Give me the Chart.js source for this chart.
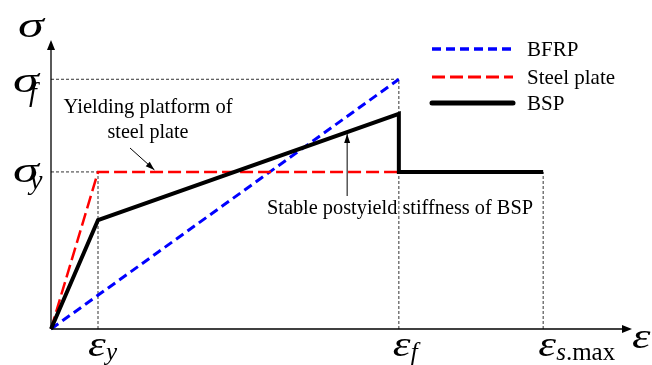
<!DOCTYPE html>
<html><head><meta charset="utf-8">
<script src="https://cdn.jsdelivr.net/npm/chart.js@4/dist/chart.umd.min.js"></script>
<style>html,body{margin:0;padding:0;background:#fff;}canvas{display:block}</style>
</head><body>
<canvas id="c" width="652" height="365"></canvas>
<script>
// Normalised constitutive model: strains in units of ε_y, stresses in units of σ_y
const strainMarks = [1, 7.4, 10.47];                 // ε_y, ε_f, ε_s.max
const strainMarkNames = [['ε', 'y'], ['ε', 'f'], ['ε', 's.max']];
const stressMarks = [1, 1.59];                        // σ_y, σ_f
const stressMarkNames = [['σ', 'y'], ['σ', 'f']];

const bfrpStrain = [0, 7.4];
const bfrpStress = [0, 1.59];
const steelStrain = [0, 1, 7.4];
const steelStress = [0, 1, 1];
const bspStrain = [0, 1, 7.4, 7.4, 10.47];
const bspStress = [0, 0.694, 1.37, 1, 1];
const seriesNames = ['BFRP', 'Steel plate', 'BSP'];

const SERIF = '"Liberation Serif", "Times New Roman", serif';
const pts = (xs, ys) => xs.map((x, i) => ({ x, y: ys[i] }));

// italic symbol (stretched horizontally by sx) with an optional subscript
function symbol(ctx, main, sub, x, y, size, sx, subSize, subX, subY) {
  ctx.save();
  ctx.fillStyle = '#000';
  ctx.textBaseline = 'alphabetic';
  ctx.textAlign = 'left';
  ctx.save();
  ctx.translate(x, y);
  ctx.scale(sx, 1);
  ctx.font = 'italic ' + size + 'px ' + SERIF;
  ctx.fillText(main, 0, 0);
  ctx.restore();
  if (sub) {
    ctx.font = 'italic ' + subSize + 'px ' + SERIF;
    ctx.fillText(sub[0], x + subX, y + subY);
    if (sub.length > 1) {
      const w = ctx.measureText(sub[0]).width;
      ctx.font = subSize + 'px ' + SERIF;
      ctx.fillText(sub.slice(1), x + subX + w, y + subY);
    }
  }
  ctx.restore();
}

// text squeezed horizontally to a given width
function fitText(ctx, text, cx, y, size, width) {
  ctx.save();
  ctx.font = size + 'px ' + SERIF;
  ctx.fillStyle = '#000';
  ctx.textAlign = 'center';
  ctx.textBaseline = 'alphabetic';
  const w = ctx.measureText(text).width;
  ctx.translate(cx, y);
  ctx.scale(Math.min(1, width / w), 1);
  ctx.fillText(text, 0, 0);
  ctx.restore();
}

function arrowHead(ctx, x0, y0, x1, y1, len, half) {
  const a = Math.atan2(y1 - y0, x1 - x0);
  ctx.beginPath();
  ctx.moveTo(x1, y1);
  ctx.lineTo(x1 - len * Math.cos(a) + half * Math.sin(a), y1 - len * Math.sin(a) - half * Math.cos(a));
  ctx.lineTo(x1 - len * Math.cos(a) - half * Math.sin(a), y1 - len * Math.sin(a) + half * Math.cos(a));
  ctx.closePath();
  ctx.fill();
}

function arrow(ctx, x0, y0, x1, y1) {
  ctx.save();
  ctx.strokeStyle = '#000'; ctx.fillStyle = '#000'; ctx.lineWidth = 1;
  ctx.beginPath(); ctx.moveTo(x0, y0); ctx.lineTo(x1, y1); ctx.stroke();
  arrowHead(ctx, x0, y0, x1, y1, 9, 3);
  ctx.restore();
}

function onBsp(e) {
  for (let i = 1; i < bspStrain.length; i++) {
    const a = bspStrain[i - 1], b = bspStrain[i];
    if (e >= a && e <= b && b > a) {
      return bspStress[i - 1] + (bspStress[i] - bspStress[i - 1]) * (e - a) / (b - a);
    }
  }
  return 0;
}

const guides = {
  id: 'guides',
  beforeDatasetsDraw(chart) {
    const { ctx, scales: { x, y } } = chart;
    const X = v => x.getPixelForValue(v), Y = v => y.getPixelForValue(v);
    ctx.save();
    ctx.strokeStyle = '#333';
    ctx.lineWidth = 1;
    ctx.setLineDash([3, 2]);
    const seg = (a, b, c, d) => { ctx.beginPath(); ctx.moveTo(a, b); ctx.lineTo(c, d); ctx.stroke(); };
    seg(X(0), Y(stressMarks[1]), X(strainMarks[1]), Y(stressMarks[1]));
    seg(X(0), Y(stressMarks[0]), X(strainMarks[0]), Y(stressMarks[0]));
    seg(X(strainMarks[0]), Y(0), X(strainMarks[0]), Y(stressMarks[0]));
    seg(X(strainMarks[1]), Y(0), X(strainMarks[1]), Y(stressMarks[1]));
    seg(X(strainMarks[2]), Y(0), X(strainMarks[2]), Y(stressMarks[0]));
    ctx.restore();
  },
  afterDraw(chart) {
    const { ctx, chartArea: ca, scales: { x, y } } = chart;
    const X = v => x.getPixelForValue(v), Y = v => y.getPixelForValue(v);
    const ox = X(0), oy = Y(0);
    ctx.save();
    // axes with arrows
    ctx.strokeStyle = '#000'; ctx.fillStyle = '#000'; ctx.lineWidth = 1.3;
    ctx.beginPath(); ctx.moveTo(ox, oy); ctx.lineTo(ox, ca.top + 6); ctx.stroke();
    arrowHead(ctx, ox, oy, ox, ca.top, 10, 4);
    ctx.beginPath(); ctx.moveTo(ox, oy); ctx.lineTo(ca.right - 6, oy); ctx.stroke();
    arrowHead(ctx, ox, oy, ca.right, oy, 10, 4);

    // axis symbols
    symbol(ctx, 'σ', '', ox - 33, ca.top - 3, 36, 1.45);
    symbol(ctx, 'ε', '', ca.right, oy + 19, 36, 1.3);

    // stress marks
    symbol(ctx, stressMarkNames[0][0], stressMarkNames[0][1], ox - 38, Y(stressMarks[0]) + 10, 36, 1.45, 28, 17, 7);
    symbol(ctx, stressMarkNames[1][0], stressMarkNames[1][1], ox - 38, Y(stressMarks[1]) + 13, 36, 1.45, 28, 16, 9);

    // strain marks
    const dx = [-10, -6, -5];
    strainMarks.forEach((v, i) => {
      const [m, s] = strainMarkNames[i];
      symbol(ctx, m, s, X(v) + dx[i], oy + 27, 36, 1.25, 25, 18, 4);
    });

    // annotations
    fitText(ctx, 'Yielding platform of', 148, 113, 22, 169);
    fitText(ctx, 'steel plate', 148, 138, 22, 81);
    const platE = 2.2;
    arrow(ctx, 130, 148, X(platE), Y(steelStress[1]) - 2);

    fitText(ctx, 'Stable postyield stiffness of BSP', 400, 214, 22, 266);
    const stE = 6.3;
    arrow(ctx, X(stE), 196, X(stE), Y(onBsp(stE)) + 2);

    // legend
    const lx0 = 432, lx1 = 513, tx = 527;
    const rows = [49, 77, 103];
    chart.data.datasets.forEach((ds, i) => {
      ctx.save();
      ctx.strokeStyle = ds.borderColor;
      ctx.lineWidth = ds.borderWidth + (i === 2 ? 1 : 0.5);
      ctx.lineCap = i === 2 ? 'round' : 'butt';
      ctx.setLineDash(ds.borderDash || []);
      ctx.beginPath(); ctx.moveTo(lx0, rows[i]); ctx.lineTo(lx1, rows[i]); ctx.stroke();
      ctx.restore();
      ctx.fillStyle = '#000';
      ctx.font = '21px ' + SERIF;
      ctx.textAlign = 'left';
      ctx.textBaseline = 'middle';
      ctx.fillText(seriesNames[i], tx, rows[i] + 1);
    });
    ctx.restore();
  }
};

new Chart(document.getElementById('c'), {
  type: 'scatter',
  data: {
    datasets: [
      { label: seriesNames[0], data: pts(bfrpStrain, bfrpStress), showLine: true,
        borderColor: '#0000ff', borderWidth: 3, borderDash: [9, 5], pointRadius: 0, clip: false, order: 3 },
      { label: seriesNames[1], data: pts(steelStrain, steelStress), showLine: true,
        borderColor: '#ff0000', borderWidth: 2.5, borderDash: [13, 5], pointRadius: 0, clip: false, order: 2 },
      { label: seriesNames[2], data: pts(bspStrain, bspStress), showLine: true,
        borderColor: '#000000', borderWidth: 4, pointRadius: 0, clip: false, order: 1,
        borderJoinStyle: 'miter', borderCapStyle: 'butt' }
    ]
  },
  options: {
    responsive: false,
    animation: false,
    layout: { padding: { left: 51, right: 20, top: 40, bottom: 36 } },
    scales: {
      x: { type: 'linear', display: false, min: 0, max: 12.36 },
      y: { type: 'linear', display: false, min: 0, max: 1.84 }
    },
    plugins: { legend: { display: false }, tooltip: { enabled: false } }
  },
  plugins: [guides]
});
</script>
</body></html>
